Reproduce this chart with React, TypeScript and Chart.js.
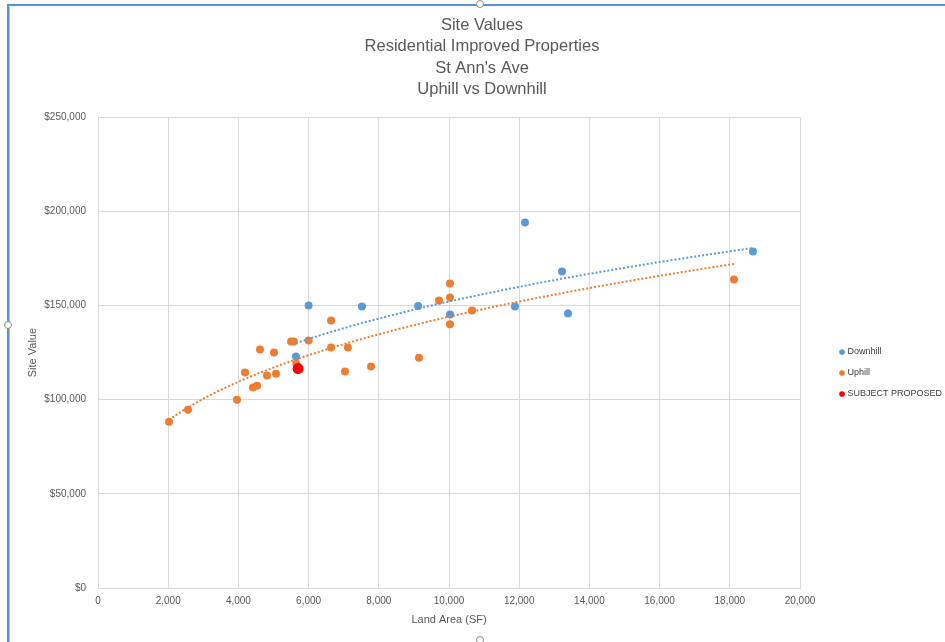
import React, { useEffect, useRef } from 'react';
import { Chart, registerables } from 'chart.js';

Chart.register(...registerables);

// ---- data ----
const titleLines = ['Site Values', 'Residential Improved Properties', "St Ann's Ave", 'Uphill vs Downhill'];
const xAxisTitle = 'Land Area (SF)';
const yAxisTitle = 'Site Value';

const downhillName = 'Downhill';
const downhillX = [5640, 6000, 7520, 9120, 10030, 11880, 12165, 13220, 13390, 18660, 5700];
const downhillY = [122900, 150000, 149500, 149700, 145200, 149500, 194000, 168000, 145700, 178700, 117000];

const uphillName = 'Uphill';
const uphillX = [2023, 2564, 3960, 4190, 4416, 4530, 4615, 4815, 5014, 5071, 5500, 5580, 5650, 6000, 6640, 6640, 7037, 7120, 7778, 9145, 9715, 10028, 10028, 10028, 10655, 18120];
const uphillY = [88300, 94700, 100000, 114400, 106400, 107400, 126600, 112800, 125000, 113800, 130900, 130900, 119000, 131400, 142000, 127700, 114900, 127700, 117600, 122300, 152700, 161700, 154300, 140000, 147300, 163800];

const subjectName = 'SUBJECT PROPOSED';
const subjectX = [5700];
const subjectY = [116500];

const xMin = 0, xMax = 20000, xStep = 2000;
const yMin = 0, yMax = 250000, yStep = 50000;

const toPoints = (xs: number[], ys: number[]) => xs.map((x, i) => ({ x, y: ys[i] }));

// Excel-style power trendline (least squares in log-log space), spanning the data range
function powerTrend(xs: number[], ys: number[]) {
  const n = xs.length;
  let sx = 0, sy = 0, sxx = 0, sxy = 0;
  for (let i = 0; i < n; i++) {
    const lx = Math.log(xs[i]);
    const ly = Math.log(ys[i]);
    sx += lx; sy += ly; sxx += lx * lx; sxy += lx * ly;
  }
  const b = (n * sxy - sx * sy) / (n * sxx - sx * sx);
  const a = Math.exp((sy - b * sx) / n);
  const lo = Math.min(...xs), hi = Math.max(...xs);
  const pts: { x: number; y: number }[] = [];
  const steps = 120;
  for (let k = 0; k <= steps; k++) {
    const x = lo + ((hi - lo) * k) / steps;
    pts.push({ x, y: a * Math.pow(x, b) });
  }
  return pts;
}

const BLUE = '#5B9BD5';
const ORANGE = '#ED7D31';
const RED = '#FF0000';
const GRID = '#D9D9D9';
const TEXT = '#595959';
const FONT = "'Liberation Sans', Arial, sans-serif";

const legendPlace = {
  id: 'legendPlace',
  afterInit(chart: any) {
    const lg = chart.legend;
    if (!lg) return;
    const orig = lg.fit.bind(lg);
    lg.fit = function () {
      orig();
      this.width = 145;
    };
  },
  afterLayout(chart: any) {
    const lg = chart.legend;
    if (!lg) return;
    lg.left = 829;
    lg.right = 945;
    lg.top = 335.5;
    lg.bottom = 630;
  },
};

function App() {
  const ref = useRef<HTMLCanvasElement | null>(null);

  useEffect(() => {
    if (!ref.current) return;
    const chart = new Chart(ref.current, {
      type: 'scatter',
      data: {
        datasets: [
          {
            label: downhillName,
            data: toPoints(downhillX, downhillY),
            backgroundColor: BLUE,
            borderColor: BLUE,
            borderWidth: 0,
            pointRadius: 4,
            order: 5,
          },
          {
            label: uphillName,
            data: toPoints(uphillX, uphillY),
            backgroundColor: ORANGE,
            borderColor: ORANGE,
            borderWidth: 0,
            pointRadius: 4,
            order: 4,
          },
          {
            label: subjectName,
            data: toPoints(subjectX, subjectY),
            backgroundColor: RED,
            borderColor: RED,
            borderWidth: 0,
            pointRadius: 5.5,
            order: 3,
          },
          {
            label: 'Downhill trend',
            data: powerTrend(downhillX, downhillY),
            showLine: true,
            borderColor: BLUE,
            backgroundColor: BLUE,
            borderWidth: 2,
            borderDash: [2, 2],
            pointRadius: 0,
            fill: false,
            order: 2,
          },
          {
            label: 'Uphill trend',
            data: powerTrend(uphillX, uphillY),
            showLine: true,
            borderColor: ORANGE,
            backgroundColor: ORANGE,
            borderWidth: 2,
            borderDash: [2, 2],
            pointRadius: 0,
            fill: false,
            order: 1,
          },
        ],
      },
      options: {
        responsive: false,
        animation: false,
        events: [],
        layout: { padding: { left: 19, right: 0, top: 0, bottom: 0 } },
        plugins: {
          tooltip: { enabled: false },
          title: {
            display: true,
            text: titleLines,
            color: TEXT,
            font: { family: FONT, size: 16.5, weight: 'normal', lineHeight: 1.29 },
            padding: { top: 15, bottom: 17 },
          },
          legend: {
            display: true,
            position: 'right',
            align: 'start',
            labels: {
              usePointStyle: true,
              pointStyle: 'circle',
              boxWidth: 2,
              boxHeight: 4,
              padding: 12,
              color: '#404040',
              font: { family: FONT, size: 9 },
              filter: (item: any) => item.datasetIndex < 3,
              sort: (a: any, b: any) => a.datasetIndex - b.datasetIndex,
            },
          },
        },
        scales: {
          x: {
            type: 'linear',
            min: xMin,
            max: xMax,
            afterFit: (s: any) => { s.height = 54; },
            grid: { color: GRID, drawTicks: false },
            border: { color: GRID },
            ticks: {
              stepSize: xStep,
              padding: 7,
              color: TEXT,
              maxRotation: 0,
              autoSkip: false,
              font: { family: FONT, size: 10 },
              callback: (v: any) => Number(v).toLocaleString('en-US'),
            },
            title: {
              display: true,
              text: xAxisTitle,
              color: TEXT,
              font: { family: FONT, size: 11 },
              padding: { top: 0, bottom: 15 },
            },
          },
          y: {
            type: 'linear',
            min: yMin,
            max: yMax,
            afterFit: (s: any) => { s.width = 79; },
            grid: { color: GRID, drawTicks: false },
            border: { color: GRID },
            ticks: {
              stepSize: yStep,
              padding: 12,
              color: TEXT,
              font: { family: FONT, size: 10 },
              callback: (v: any) => '$' + Number(v).toLocaleString('en-US'),
            },
            title: {
              display: true,
              text: yAxisTitle,
              color: TEXT,
              font: { family: FONT, size: 11 },
              padding: { top: 7, bottom: 0 },
            },
          },
        },
      },
      plugins: [legendPlace],
    } as any);
    return () => chart.destroy();
  }, []);

  const handle = (left: number, top: number) => (
    <div
      style={{
        position: 'absolute',
        left: left - 4,
        top: top - 4,
        width: 6,
        height: 6,
        borderRadius: '50%',
        border: '1px solid #8c8c8c',
        background: '#ffffff',
      }}
    />
  );

  return (
    <div style={{ position: 'absolute', left: 0, top: 0, width: 945, height: 642, overflow: 'hidden', background: '#ffffff' }}>
      <canvas ref={ref} width={945} height={642} style={{ position: 'absolute', left: 0, top: 0, width: 945, height: 642 }} />
      <div style={{ position: 'absolute', left: 7, top: 4, width: 2, height: 642, background: '#5B8FD6' }} />
      <div style={{ position: 'absolute', left: 7, top: 4, width: 945, height: 2, background: '#5B8FD6' }} />
      <div style={{ position: 'absolute', left: 9, top: 7, width: 1, height: 642, background: '#BFBFBF' }} />
      {handle(480, 4)}
      {handle(8, 325)}
      {handle(480, 640)}
    </div>
  );
}

export default App;
